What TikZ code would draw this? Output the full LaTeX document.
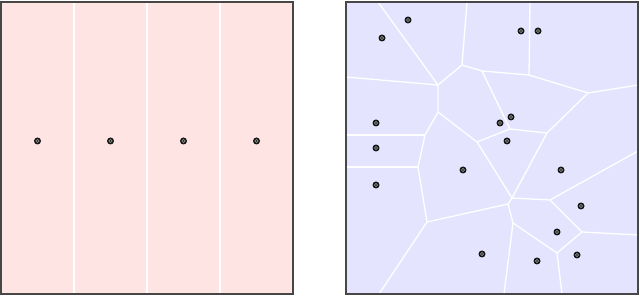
\documentclass[tikz,border=0pt]{standalone}
\definecolor{pinkbg}{HTML}{FFE4E4}
\definecolor{lavbg}{HTML}{E4E4FF}
\begin{document}
\begin{tikzpicture}[x=1pt,y=-1pt,
  site/.style={circle,fill=black!92,inner sep=0pt,minimum size=7pt,
    path picture={\draw[black!45,line width=0.6pt] (path picture bounding box.center) circle (1.6pt);}},
  cell/.style={white,line width=1.3pt},
  frame/.style={draw=black!72,line width=1.5pt}]
\useasboundingbox (0,0) rectangle (640,296);
% ---------- left panel ----------
\fill[pinkbg] (1,2) rectangle (293,294);
\foreach \x in {74,147,220} \draw[cell] (\x,2) -- (\x,294);
\draw[frame] (1,2) rectangle (293,294);
\node[site] (l1) at (37.5,141) {};
\node[site] (l2) at (110.5,141) {};
\node[site] (l3) at (183.5,141) {};
\node[site] (l4) at (256.5,141) {};
% ---------- right panel ----------
\fill[lavbg] (346,2) rectangle (638,294);
\coordinate (A) at (438,85);
\coordinate (B) at (462,65);
\coordinate (C) at (438,112);
\coordinate (D) at (482,71);
\coordinate (E) at (510,129);
\coordinate (F) at (477,142);
\coordinate (G) at (588,93);
\coordinate (H) at (547,133);
\coordinate (I) at (512,198);
\coordinate (Ip) at (508,204);
\coordinate (J) at (550,200);
\coordinate (K) at (513,223);
\coordinate (L) at (557,253);
\coordinate (M) at (582,232);
\coordinate (N) at (529,75);
\coordinate (P) at (425,135);
\coordinate (Q) at (418,167);
\coordinate (R) at (427,222);
% border ends
\coordinate (t1) at (378,2);
\coordinate (t2) at (467,2);
\coordinate (t3) at (530,2);
\coordinate (w1) at (346,77);
\coordinate (w2) at (346,135);
\coordinate (w3) at (346,167);
\coordinate (e1) at (638,85);
\coordinate (e2) at (638,151);
\coordinate (e3) at (638,235);
\coordinate (b1) at (379,294);
\coordinate (b2) at (504,294);
\coordinate (b3) at (562,294);
\begin{scope}
\clip (346,2) rectangle (638,294);
\draw[cell] (t1) -- (A) -- (B) -- (t2);
\draw[cell] (w1) -- (A);
\draw[cell] (A) -- (C) -- (P) -- (Q) -- (R) -- (b1);
\draw[cell] (w2) -- (P);
\draw[cell] (w3) -- (Q);
\draw[cell] (B) -- (D) -- (N) -- (t3);
\draw[cell] (N) -- (G) -- (e1);
\draw[cell] (D) -- (E) -- (F) -- (C);
\draw[cell] (E) -- (H) -- (G);
\draw[cell] (F) -- (I) -- (H);
\draw[cell] (I) -- (J) -- (e2);
\draw[cell] (I) -- (Ip) -- (R);
\draw[cell] (Ip) -- (K) -- (b2);
\draw[cell] (K) -- (L) -- (b3);
\draw[cell] (L) -- (M) -- (e3);
\draw[cell] (J) -- (M);
\end{scope}
\draw[frame] (346,2) rectangle (638,294);
\foreach \n/\x/\y in {r1/408/20, r2/382/38, r3/521/31, r4/538/31,
  r5/376/123, r6/376/148, r7/376/185, r8/511/117, r9/500/123,
  r10/507/141, r11/463/170, r12/561/170, r13/581/206, r14/557/232,
  r15/577/255, r16/537/261, r17/482/254}
  \node[site] (\n) at (\x,\y) {};
\end{tikzpicture}
\end{document}
